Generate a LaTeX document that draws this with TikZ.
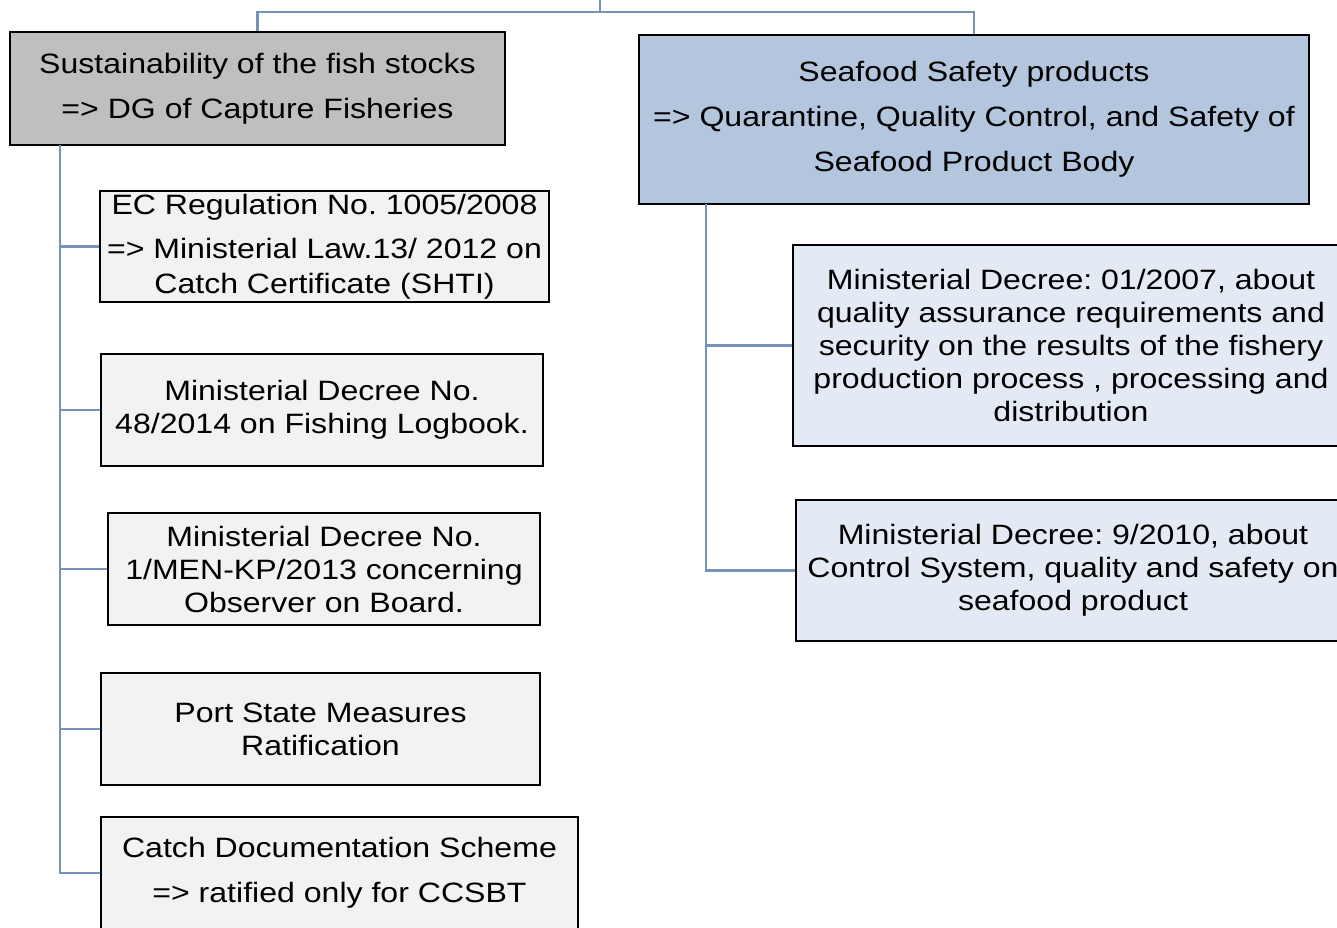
\documentclass[tikz,border=0pt]{standalone}
\usepackage{fontspec}
\setmainfont[FakeStretch=1.145]{Liberation Sans}
\frenchspacing
\definecolor{conn}{HTML}{7593BA}
\definecolor{grayfill}{HTML}{BFBFBF}
\definecolor{bluefill}{HTML}{B3C6DD}
\definecolor{lightfill}{HTML}{F2F2F2}
\definecolor{lbluefill}{HTML}{E4EAF3}
\begin{document}
\begin{tikzpicture}[x=1pt,y=-1pt,
  box/.style={draw=black,line width=2.2pt,rectangle,inner sep=0pt,align=center,
    font=\fontsize{28}{33}\selectfont\frenchspacing},
  conline/.style={draw=conn,line width=2.8pt}]
\useasboundingbox (0,0) rectangle (1337,927);
\clip (0,0) rectangle (1337,927);
% top-level boxes
\node[box,fill=grayfill,minimum width=495,minimum height=113] (A) at (257.5,88.5)
  {Sustainability of the fish stocks\\[12pt]=> DG of Capture Fisheries};
\node[box,fill=bluefill,minimum width=670,minimum height=169] (B) at (974,119.5)
  {Seafood Safety products\\[12pt]=> Quarantine, Quality Control, and Safety of\\[12pt]Seafood Product Body};
% left children
\node[box,fill=lightfill,minimum width=449,minimum height=111] (b1) at (324.5,246.5)
  {EC Regulation No. 1005/2008\\[11pt]=> Ministerial Law.13/ 2012 on\\[2pt]Catch Certificate (SHTI)};
\node[box,fill=lightfill,minimum width=442,minimum height=112] (b2) at (322,410)
  {Ministerial Decree No.\\48/2014 on Fishing Logbook.};
\node[box,fill=lightfill,minimum width=432,minimum height=112] (b3) at (324,569)
  {Ministerial Decree No.\\1/MEN-KP/2013 concerning\\Observer on Board.};
\node[box,fill=lightfill,minimum width=439,minimum height=112] (b4) at (320.5,729)
  {Port State Measures\\Ratification};
\node[box,fill=lightfill,minimum width=477,minimum height=112] (b5) at (339.5,873)
  {Catch Documentation Scheme\\[12pt]=> ratified only for CCSBT};
% right children
\node[box,fill=lbluefill,minimum width=556,minimum height=201] (r1) at (1071,345.5)
  {Ministerial Decree: 01/2007, about\\quality assurance requirements and\\security on the results of the fishery\\production process , processing and\\distribution};
\node[box,fill=lbluefill,minimum width=554,minimum height=141] (r2) at (1073,570.5)
  {Ministerial Decree: 9/2010, about\\Control System, quality and safety on\\seafood product};
% connectors
\coordinate (top) at (600,0);
\coordinate (hub) at (600,12);
\draw[conline] (top) -- (hub) -| (A.north);
\draw[conline] (hub) -| (B.north);
\coordinate (lt) at (60,145);
\draw[conline] (lt) |- (b5.west);
\foreach \n in {b1,b2,b3,b4}{\draw[conline] (lt |- \n.west) -- (\n.west);}
\coordinate (rt) at (706,204);
\draw[conline] (rt) |- (r2.west);
\draw[conline] (rt |- r1.west) -- (r1.west);
\end{tikzpicture}
\end{document}
